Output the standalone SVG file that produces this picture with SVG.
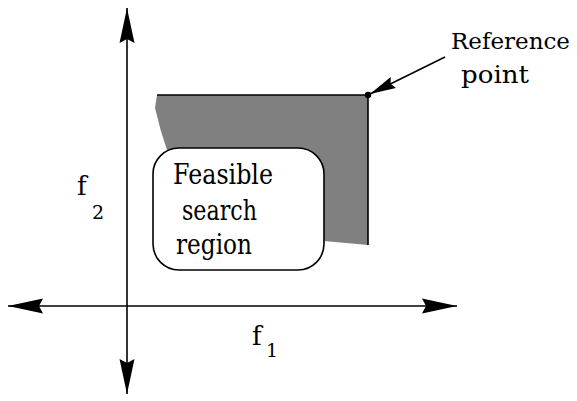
<svg xmlns="http://www.w3.org/2000/svg" width="577" height="401" viewBox="0 0 577 401">
<style>
text{font-family:'DejaVu Serif',serif;fill:#000}
.ax{stroke:#000;stroke-width:1.6;fill:none}
</style>
<defs>
<marker id="big" markerUnits="userSpaceOnUse" markerWidth="40" markerHeight="20" refX="36" refY="8" orient="auto-start-reverse" viewBox="0 0 40 16">
<path d="M36,8 L1,0.5 L5,8 L1,15.5 Z" fill="#000"/>
</marker>
<marker id="small" markerUnits="userSpaceOnUse" markerWidth="30" markerHeight="16" refX="27" refY="7" orient="auto" viewBox="0 0 30 14">
<path d="M27,7 L1,1 L4,7 L1,13 Z" fill="#000"/>
</marker>
</defs>
<g id="region">
<path d="M157,95 L368,95 L368,245 L324,241 L300,200 L167,150 Q160,130 155,108 Z" fill="#808080"/>
<path d="M157,95 L368,95 L368,245" stroke="#000" stroke-width="1.6" fill="none"/>
</g>
<g id="connectors">
<line class="ax" x1="127" y1="8" x2="127" y2="394" marker-start="url(#big)" marker-end="url(#big)"/>
<line class="ax" x1="8" y1="306" x2="457" y2="306" marker-start="url(#big)" marker-end="url(#big)"/>
<line class="ax" x1="445" y1="57" x2="370" y2="94" marker-end="url(#small)"/>
</g>
<g id="feasible">
<rect x="153" y="148" width="171" height="122" rx="26" fill="#fff" stroke="#000" stroke-width="1.6"/>
<text font-size="27" x="173" y="184" textLength="100" lengthAdjust="spacingAndGlyphs">Feasible</text>
<text font-size="27" x="182" y="220" textLength="75" lengthAdjust="spacingAndGlyphs">search</text>
<text font-size="27" x="176" y="254" textLength="76" lengthAdjust="spacingAndGlyphs">region</text>
</g>
<g id="reference">
<circle cx="368" cy="95" r="3.2" fill="#000"/>
<text font-size="23" x="451" y="49">Reference</text>
<text font-size="24" x="461" y="83" textLength="68" lengthAdjust="spacingAndGlyphs">point</text>
</g>
<g id="f1">
<text font-size="26" x="252" y="345">f</text>
<text font-size="19" x="266" y="357">1</text>
</g>
<g id="f2">
<text font-size="26" x="77" y="195">f</text>
<text font-size="19" x="92" y="219">2</text>
</g>
</svg>
